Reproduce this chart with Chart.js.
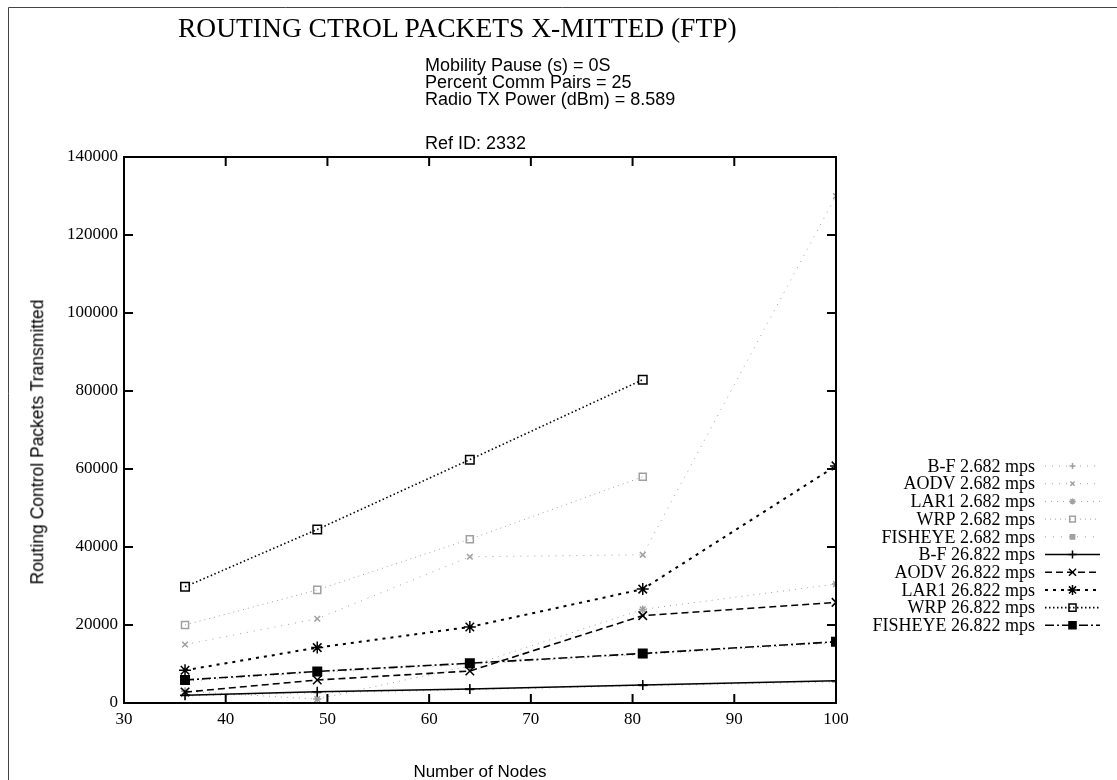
<!DOCTYPE html>
<html>
<head>
<meta charset="utf-8">
<script src="https://cdn.jsdelivr.net/npm/chart.js@4.4.1/dist/chart.umd.min.js"></script>
<style>
  html, body { margin: 0; padding: 0; background: #fff; }
  #wrap { position: relative; width: 1117px; height: 780px; overflow: hidden; background: #fff; }
  canvas { position: absolute; left: 0; top: 0; }
  .t { position: absolute; white-space: nowrap; color: #000; line-height: 1; }
  .serif { font-family: "Liberation Serif", "DejaVu Serif", serif; }
  .sans { font-family: "Liberation Sans", "DejaVu Sans", sans-serif; }
</style>
</head>
<body>
<div id="wrap">
  <canvas id="c" width="1117" height="780"></canvas>
  <div class="t serif" style="left:178px; top:14px; font-size:27.5px;">ROUTING CTROL PACKETS X-MITTED (FTP)</div>
  <div class="t sans" style="left:425px; top:56px; font-size:18px;">Mobility Pause (s) = 0S</div>
  <div class="t sans" style="left:425px; top:73px; font-size:18px;">Percent Comm Pairs = 25</div>
  <div class="t sans" style="left:425px; top:90px; font-size:18px;">Radio TX Power (dBm) = 8.589</div>
  <div class="t sans" style="left:425px; top:134px; font-size:18px;">Ref ID: 2332</div>
  <div class="t sans" style="left:38px; top:442px; font-size:17.5px; transform: translate(-50%,-50%) rotate(-90deg);">Routing Control Packets Transmitted</div>
  <div class="t sans" style="left:480px; top:771px; font-size:17px; transform: translate(-50%,-50%);">Number of Nodes</div>
</div>
<script>
// ---- data ----
const nodes = [36, 49, 64, 81, 100];
const yTicks = [0, 20000, 40000, 60000, 80000, 100000, 120000, 140000];
const xTicks = [30, 40, 50, 60, 70, 80, 90, 100];

const seriesNames = [
  "B-F 2.682 mps", "AODV 2.682 mps", "LAR1 2.682 mps", "WRP 2.682 mps", "FISHEYE 2.682 mps",
  "B-F 26.822 mps", "AODV 26.822 mps", "LAR1 26.822 mps", "WRP 26.822 mps", "FISHEYE 26.822 mps"
];
const bfSlow      = [1800, 2600, 3400, 4400, 5400];
const aodvSlow    = [15000, 21600, 37500, 38000, 130000];
const lar1Slow    = [3000, 1000, 9500, 24000, 30500];
const wrpSlow     = [20000, 29000, 42000, 58000, null];
const fisheyeSlow = [5600, 7800, 9900, 12400, 15400];
const bfFast      = [2000, 2900, 3600, 4600, 5700];
const aodvFast    = [2800, 5900, 8200, 22400, 25800];
const lar1Fast    = [8400, 14200, 19500, 29200, 60800];
const wrpFast     = [29800, 44500, 62400, 82900, null];
const fisheyeFast = [5900, 8100, 10200, 12700, 15700];

const allValues = [bfSlow, aodvSlow, lar1Slow, wrpSlow, fisheyeSlow, bfFast, aodvFast, lar1Fast, wrpFast, fisheyeFast];

// ---- styles ----
const LIGHT = "#a0a0a0";
const styles = [
  { c: LIGHT, w: 1, dash: [1, 6], ps: "cross", r: 4, fill: false },
  { c: LIGHT, w: 1, dash: [1, 6], ps: "crossRot", r: 4, fill: false },
  { c: LIGHT, w: 1, dash: [1, 5], ps: "star", r: 4, fill: false },
  { c: LIGHT, w: 1, dash: [1, 4], ps: "rect", r: 5, fill: false },
  { c: LIGHT, w: 1, dash: [1, 7], ps: "rect", r: 4, fill: true },
  { c: "#000", w: 1.6, dash: [], ps: "cross", r: 5, fill: false },
  { c: "#000", w: 1.6, dash: [7, 4], ps: "crossRot", r: 6, fill: false },
  { c: "#000", w: 2, dash: [3, 5], ps: "star", r: 6, fill: false },
  { c: "#000", w: 1.6, dash: [1.5, 2.5], ps: "rect", r: 6, fill: false },
  { c: "#000", w: 1.6, dash: [9, 3, 2, 3], ps: "rect", r: 6, fill: true }
];

const datasets = seriesNames.map((name, i) => {
  const s = styles[i];
  return {
    label: name,
    order: i < 5 ? 2 : 1,
    data: nodes.map((n, k) => ({ x: n, y: allValues[i][k] })).filter(p => p.y !== null),
    borderColor: s.c,
    borderWidth: s.w,
    borderDash: s.dash,
    pointStyle: s.ps,
    pointRadius: s.r,
    pointBorderColor: s.c,
    pointBorderWidth: 1.5,
    pointBackgroundColor: s.fill ? s.c : "rgba(255,255,255,0)",
    fill: false,
    tension: 0
  };
});

const SERIF = '"Liberation Serif", "DejaVu Serif", serif';

const frame = {
  id: "frame",
  afterDraw(chart) {
    const ctx = chart.ctx;
    const a = chart.chartArea;
    const xs = chart.scales.x, ys = chart.scales.y;
    ctx.save();
    // page border (scan frame)
    ctx.strokeStyle = "#444";
    ctx.lineWidth = 1;
    ctx.beginPath();
    ctx.moveTo(8.5, 780); ctx.lineTo(8.5, 7.5); ctx.lineTo(1117, 7.5);
    ctx.stroke();
    // plot box
    ctx.strokeStyle = "#000";
    ctx.lineWidth = 2;
    ctx.strokeRect(a.left, a.top, a.right - a.left, a.bottom - a.top);
    // inward ticks
    ctx.beginPath();
    yTicks.forEach(v => {
      const y = ys.getPixelForValue(v);
      ctx.moveTo(a.left, y); ctx.lineTo(a.left + 9, y);
      ctx.moveTo(a.right, y); ctx.lineTo(a.right - 9, y);
    });
    xTicks.forEach(v => {
      const x = xs.getPixelForValue(v);
      ctx.moveTo(x, a.bottom); ctx.lineTo(x, a.bottom - 9);
      ctx.moveTo(x, a.top); ctx.lineTo(x, a.top + 9);
    });
    ctx.stroke();

    // legend: text right aligned, line sample to the right
    const textRight = 1035, x0 = 1045, x1 = 1100, top = 466, step = 17.7;
    ctx.font = '18px ' + SERIF;
    ctx.textAlign = "right";
    ctx.textBaseline = "middle";
    chart.data.datasets.forEach((ds, i) => {
      const y = top + i * step;
      ctx.fillStyle = "#000";
      ctx.fillText(ds.label, textRight, y + 1);
      ctx.strokeStyle = ds.borderColor;
      ctx.lineWidth = ds.borderWidth;
      ctx.setLineDash(ds.borderDash);
      ctx.beginPath(); ctx.moveTo(x0, y); ctx.lineTo(x1, y); ctx.stroke();
      ctx.setLineDash([]);
      ctx.fillStyle = ds.pointBackgroundColor;
      ctx.strokeStyle = ds.pointBorderColor;
      ctx.lineWidth = ds.pointBorderWidth;
      Chart.helpers.drawPoint(ctx, {
        pointStyle: ds.pointStyle, radius: ds.pointRadius - 1, rotation: 0,
        borderWidth: ds.pointBorderWidth
      }, (x0 + x1) / 2, y);
    });
    ctx.restore();
  }
};

new Chart(document.getElementById("c"), {
  type: "line",
  data: { datasets },
  options: {
    responsive: false,
    animation: false,
    events: [],
    layout: { padding: { left: 0, top: 157, right: 281, bottom: 0 } },
    plugins: { legend: { display: false }, title: { display: false }, tooltip: { enabled: false } },
    scales: {
      x: {
        type: "linear", min: 30, max: 100,
        afterBuildTicks: s => { s.ticks = xTicks.map(v => ({ value: v })); },
        afterFit: s => { s.height = 77; },
        grid: { display: false, drawTicks: false },
        border: { display: false },
        ticks: { color: "#000", padding: 6, callback: v => String(v), font: { family: SERIF, size: 17 } }
      },
      y: {
        type: "linear", min: 0, max: 140000,
        afterBuildTicks: s => { s.ticks = yTicks.map(v => ({ value: v })); },
        afterFit: s => { s.width = 124; },
        grid: { display: false, drawTicks: false },
        border: { display: false },
        ticks: { color: "#000", padding: 6, callback: v => String(v), font: { family: SERIF, size: 17 } }
      }
    }
  },
  plugins: [frame]
});
</script>
</body>
</html>
